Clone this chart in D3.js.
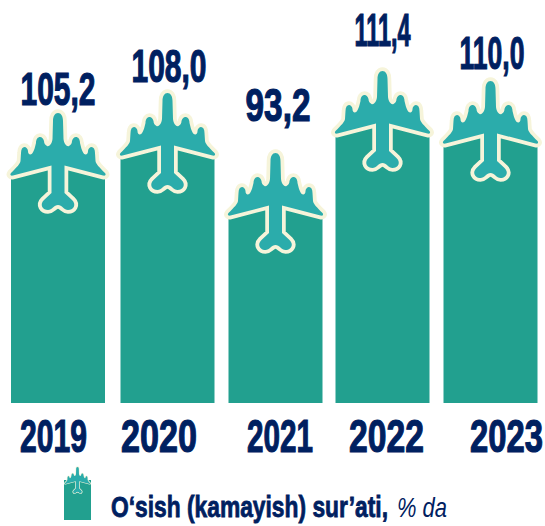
<!DOCTYPE html>
<html><head><meta charset="utf-8">
<script src="https://cdn.jsdelivr.net/npm/d3@7/dist/d3.min.js"></script>
<style>html,body{margin:0;padding:0;background:#fff}svg{display:block}
text{font-family:"Liberation Sans Narrow","Liberation Sans",sans-serif;font-weight:700;fill:#002060}</style>
</head><body><svg id="c" width="545" height="526"></svg>
<script>
const years = ["2019","2020","2021","2022","2023"];
const values = [105.2,108.0,93.2,111.4,110.0];
const valueLabels = ["105,2","108,0","93,2","111,4","110,0"];
const legendMain = "O‘sish (kamayish) sur’ati,";
const legendUnit = "% da";

// hand-placed infographic layout
const baseY = 403, barW = 94;
const valueDomain = [93.2,105.2,108.0,110.0,111.4];
const topRange   = [206,166,146,134,124];
const centers = [58,167.5,275.5,382.5,490.5];
const valueBox = [[21,74,105],[132,74,82],[246,64,121],[355,55,46],[460,64,69]];
const yearBox  = [[20,67],[121,76],[247,66],[349,75],[470,73]];

const x = d3.scaleOrdinal().domain(years).range(centers);
const y = d3.scaleLinear().domain(valueDomain).range(topRange);

const PLANE = "M0,0 C3,0 5,3 5,8 L5.5,26 C6,31 9,34 11,33 C13,32 14,30 14,28 C14.5,26 16,24 18,24 C20,24 22,26 22,30 L23,34 C24,38 26,42 28,41.5 C29.5,41 30,40 30,38 C30,36 32,34 33.5,34 C35.5,34 37,36 37,40 L37.5,48 C38,51 41,54 47,60 C48.5,62 47,63 45,62.5 L6.5,52.5 L6.5,80 L14,87 C19,92 15,97 10,97 C6,97 4,92 0,92 C-4,92 -6,97 -10,97 C-15,97 -19,92 -14,87 L-6.5,80 L-6.5,52.5 L-45,62.5 C-47,63 -48.5,62 -47,60 C-41,54 -38,51 -37.5,48 L-37,40 C-37,36 -35.5,34 -33.5,34 C-32,34 -30,36 -30,38 C-30,40 -29.5,41 -28,41.5 C-26,42 -24,38 -23,34 L-22,30 C-22,26 -20,24 -18,24 C-16,24 -14.5,26 -14,28 C-14,30 -13,32 -11,33 C-9,34 -6,31 -5.5,26 L-5,8 C-5,3 -3,0 0,0 Z";
const NOSE_TO_APEX = 53, BAR = "#22a08f", PL = "#2bacab", CREAM = "#f6f4da";

const svg = d3.select("#c");

const g = svg.selectAll("g.b").data(years).join("g").attr("class","b");
g.append("path").attr("fill",BAR).attr("d",(d,i)=>{
  const c=x(d), t=y(values[i]), h=barW/2;
  return `M${c-h},${baseY} V${t+11} L${c},${t} L${c+h},${t+11} V${baseY} Z`;
});
g.append("path").attr("d",PLANE)
  .attr("transform",(d,i)=>`translate(${x(d)},${y(values[i])-NOSE_TO_APEX})`)
  .attr("fill",PL).attr("stroke",CREAM).attr("stroke-width",7.5)
  .attr("stroke-linejoin","round").attr("paint-order","stroke");

// fit a text into a measured width by stretching it horizontally
function fit(sel, w, px, py){
  sel.attr("transform",function(d,i){
    const k = w(d,i)/this.getComputedTextLength();
    return `translate(${px(d,i)},${py(d,i)}) scale(${k},1)`;
  });
}
const v = svg.selectAll("text.v").data(valueLabels).join("text").attr("class","v")
  .attr("font-size",47).attr("stroke","#002060").attr("stroke-width",1.2).text(d=>d);
fit(v,(d,i)=>valueBox[i][1]+1,(d,i)=>valueBox[i][0]-0.5,(d,i)=>valueBox[i][2]);

const t = svg.selectAll("text.y").data(years).join("text").attr("class","y")
  .attr("font-size",47).attr("stroke","#002060").attr("stroke-width",1.2).text(d=>d);
fit(t,(d,i)=>yearBox[i][1],(d,i)=>yearBox[i][0],()=>452);

// legend
const lg = svg.append("g");
lg.append("rect").attr("x",64).attr("y",480).attr("width",27).attr("height",40).attr("fill",BAR);
lg.append("path").attr("d",PLANE).attr("transform","translate(77.5,467) scale(0.27)")
  .attr("fill",PL).attr("stroke",CREAM).attr("stroke-width",5).attr("paint-order","stroke");
const l1 = lg.append("text").attr("font-size",29).attr("stroke","#002060").attr("stroke-width",0.8).text(legendMain);
fit(l1,()=>277,()=>111,()=>517);
const l2 = lg.append("text").attr("font-size",27).attr("font-style","italic").style("font-weight",400).text(legendUnit);
fit(l2,()=>50,()=>397,()=>517);
</script></body></html>
